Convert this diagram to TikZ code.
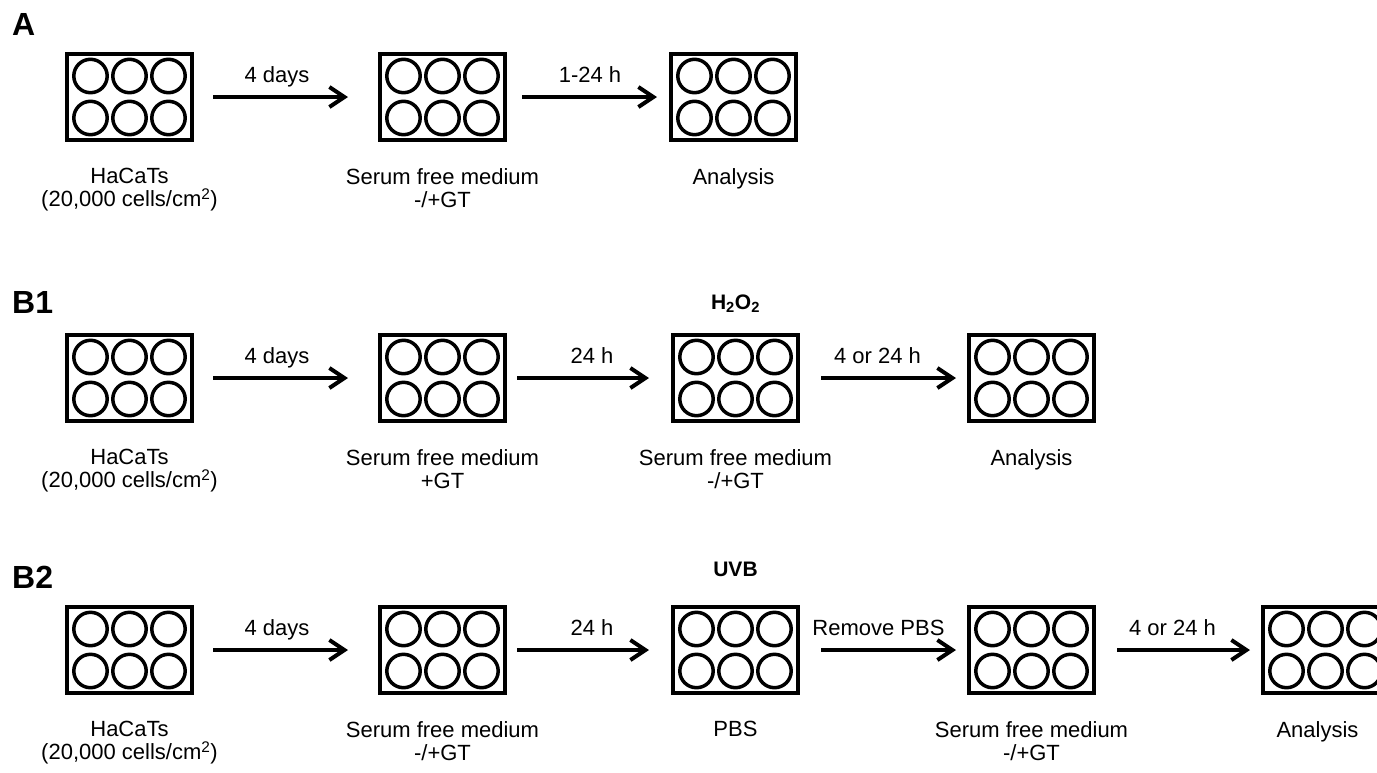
\documentclass[tikz,border=0pt]{standalone}
\usepackage{fontspec}
\setmainfont{Liberation Sans}
\usetikzlibrary{arrows.meta,positioning}

\begin{document}
\begin{tikzpicture}[x=1pt, y=-1pt, font=\fontsize{22}{23}\selectfont,
  plate/.style={draw, line width=4pt, minimum width=125pt, minimum height=86pt, inner sep=0pt,
    path picture={
      \foreach \cx in {-39,0,39}
        \foreach \cy in {-21,21}
          \draw[line width=3.5pt] ([shift={(\cx pt,\cy pt)}]path picture bounding box.center) circle[radius=16.7pt];
    }},
  flow/.style={line width=4pt, -{Straight Barb[length=15pt,width=20pt]}},
  dur/.style={midway, anchor=base, yshift=15pt, inner sep=0pt},
  platetext/.style={align=center, inner sep=0pt},
  panel/.style={anchor=base west, inner sep=0pt, font=\fontsize{32}{32}\selectfont\bfseries},
  agent/.style={inner sep=0pt, font=\fontsize{21}{21}\selectfont\bfseries}]
  \useasboundingbox (0,0) rectangle (1377,772);
  \clip (0,0) rectangle (1377,772);

  % A
  \node[panel] (tagA) at (12,35) {A};
  \node[plate] (a1) at (129.5,97) {};
  \node[plate, right=184pt of a1] (a2) {};
  \node[plate, right=162pt of a2] (a3) {};
  \draw[flow, shorten <=19pt, shorten >=30pt] (a1.east) -- node[dur, xshift=-9pt] {4 days} (a2.west);
  \draw[flow, shorten <=15pt, shorten >=12pt] (a2.east) -- node[dur, xshift=2pt] {1-24 h} (a3.west);
  \node[platetext, below=26pt of a1] (la1) {HaCaTs\\(20,000 cells/cm\textsuperscript{2})};
  \node[platetext, below=26pt of a2] (la2) {Serum free medium\\-/+GT};
  \node[platetext, below=26pt of a3] (la3) {Analysis};

  % B1
  \node[panel] (tagB1) at (12,313) {B1};
  \node[plate] (b1) at (129.5,378) {};
  \node[plate, right=184pt of b1] (b2) {};
  \node[plate, right=164pt of b2] (b3) {};
  \node[plate, right=167pt of b3] (b4) {};
  \draw[flow, shorten <=19pt, shorten >=30pt] (b1.east) -- node[dur, xshift=-9pt] {4 days} (b2.west);
  \draw[flow, shorten <=10pt, shorten >=22pt] (b2.east) -- node[dur, xshift=3pt] {24 h} (b3.west);
  \draw[flow, shorten <=21pt, shorten >=11pt] (b3.east) -- node[dur, xshift=-6pt] {4 or 24 h} (b4.west);
  \node[agent, above=20pt of b3] (h2o2) {H\textsubscript{2}O\textsubscript{2}};
  \node[platetext, below=26pt of b1] (lb1) {HaCaTs\\(20,000 cells/cm\textsuperscript{2})};
  \node[platetext, below=26pt of b2] (lb2) {Serum free medium\\+GT};
  \node[platetext, below=26pt of b3] (lb3) {Serum free medium\\-/+GT};
  \node[platetext, below=26pt of b4] (lb4) {Analysis};

  % B2
  \node[panel] (tagB2) at (12,588) {B2};
  \node[plate] (c1) at (129.5,650) {};
  \node[plate, right=184pt of c1] (c2) {};
  \node[plate, right=164pt of c2] (c3) {};
  \node[plate, right=167pt of c3] (c4) {};
  \node[plate, right=165pt of c4] (c5) {};
  \draw[flow, shorten <=19pt, shorten >=30pt] (c1.east) -- node[dur, xshift=-9pt] {4 days} (c2.west);
  \draw[flow, shorten <=10pt, shorten >=22pt] (c2.east) -- node[dur, xshift=3pt] {24 h} (c3.west);
  \draw[flow, shorten <=21pt, shorten >=11pt] (c3.east) -- node[dur, xshift=-5pt] {Remove PBS} (c4.west);
  \draw[flow, shorten <=21pt, shorten >=11pt] (c4.east) -- node[dur, xshift=-6pt] {4 or 24 h} (c5.west);
  \node[agent, above=28pt of c3] (uvb) {UVB};
  \node[platetext, below=26pt of c1] (lc1) {HaCaTs\\(20,000 cells/cm\textsuperscript{2})};
  \node[platetext, below=26pt of c2] (lc2) {Serum free medium\\-/+GT};
  \node[platetext, below=26pt of c3] (lc3) {PBS};
  \node[platetext, below=26pt of c4] (lc4) {Serum free medium\\-/+GT};
  \node[platetext, below=26pt of c5, xshift=-8pt] (lc5) {Analysis};
\end{tikzpicture}
\end{document}
